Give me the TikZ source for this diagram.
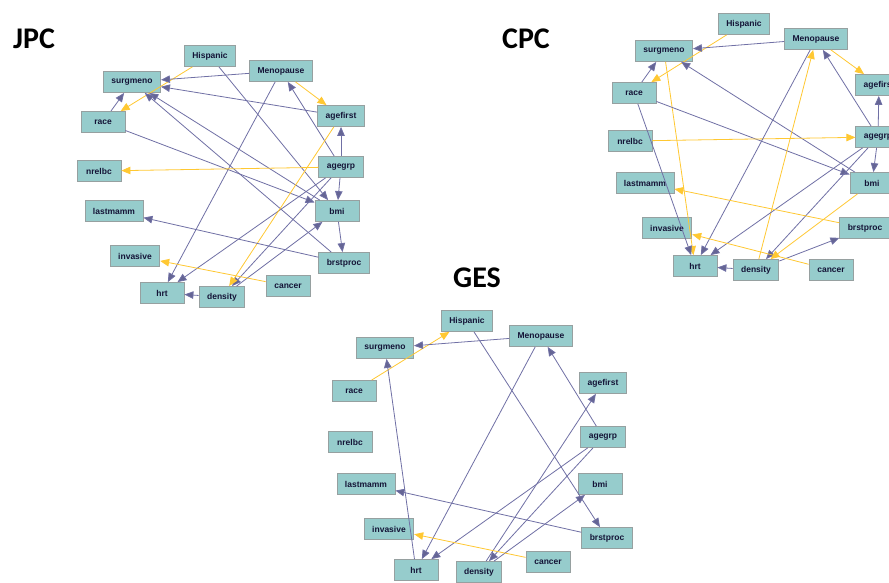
\documentclass[tikz,border=0pt]{standalone}
\usepackage{fontspec}
\setmainfont{Liberation Sans}
\newfontfamily\titlefont{Carlito}
\usetikzlibrary{arrows.meta}
\definecolor{boxfill}{RGB}{150,204,204}
\definecolor{boxline}{RGB}{150,160,160}
\definecolor{labeltext}{RGB}{20,20,55}
\definecolor{edgeblue}{RGB}{112,112,165}
\definecolor{edgeyellow}{RGB}{255,200,50}
\tikzset{
  var/.style={draw=boxline, fill=boxfill, line width=0.8pt, minimum width=44pt,
    minimum height=21pt, inner xsep=8pt, inner ysep=0pt, text=labeltext,
    font=\fontsize{8.5}{9}\selectfont\bfseries},
  title/.style={font=\titlefont\fontsize{30}{30}\selectfont\bfseries, text=black},
  blueedge/.style={draw=edgeblue, line width=0.8pt,
    -{Triangle[length=9pt,width=7.5pt,fill=edgeblue!90!black]}},
  yellowedge/.style={draw=edgeyellow, line width=0.8pt,
    -{Triangle[length=9pt,width=7.5pt,fill=edgeyellow]}},
}
\begin{document}
\begin{tikzpicture}[x=1pt,y=-1pt]
\useasboundingbox (0,0) rectangle (889,583);
\clip (0,0) rectangle (889,583);
\fill[white] (0,0) rectangle (889,583);

% ---------------- JPC ----------------
\node[title] (jT) at (34,39) {JPC};
\node[var] (jHis) at (210,56) {Hispanic};
\node[var] (jSur) at (132,82) {surgmeno};
\node[var] (jRac) at (103,122) {race};
\node[var] (jNre) at (99,171) {nrelbc};
\node[var] (jMen) at (281,71) {Menopause};
\node[var] (jAgf) at (341,116) {agefirst};
\node[var] (jAgg) at (341,167) {agegrp};
\node[var] (jLas) at (114,211) {lastmamm};
\node[var] (jInv) at (135,256) {invasive};
\node[var] (jHrt) at (162,293) {hrt};
\node[var] (jDen) at (222,297) {density};
\node[var] (jBmi) at (337,211) {bmi};
\node[var] (jBrs) at (344,263) {brstproc};
\node[var] (jCan) at (288,286) {cancer};

\begin{scope}[on background layer/.try]
\end{scope}

% ---------------- CPC ----------------
\node[title] (cT) at (526,39) {CPC};
\node[var] (cHis) at (744,24) {Hispanic};
\node[var] (cSur) at (664,51) {surgmeno};
\node[var] (cRac) at (634,93) {race};
\node[var] (cNre) at (630,141) {nrelbc};
\node[var] (cMen) at (816,39) {Menopause};
\node[var] (cAgf) at (879,85) {agefirst};
\node[var] (cAgg) at (878,137) {agegrp};
\node[var] (cLas) at (645,183) {lastmamm};
\node[var] (cInv) at (667,228) {invasive};
\node[var] (cHrt) at (695,266) {hrt};
\node[var] (cDen) at (756,270) {density};
\node[var] (cBmi) at (872,183) {bmi};
\node[var] (cBrs) at (865,228) {brstproc};
\node[var] (cCan) at (831,270) {cancer};

% ---------------- GES ----------------
\node[title] (gT) at (477,278) {GES};
\node[var] (gHis) at (467,321) {Hispanic};
\node[var] (gSur) at (385,348) {surgmeno};
\node[var] (gRac) at (354,391) {race};
\node[var] (gNre) at (350,442) {nrelbc};
\node[var] (gMen) at (541,336) {Menopause};
\node[var] (gAgf) at (603,383) {agefirst};
\node[var] (gAgg) at (603,437) {agegrp};
\node[var] (gLas) at (366,484) {lastmamm};
\node[var] (gInv) at (389,529) {invasive};
\node[var] (gHrt) at (416,570) {hrt};
\node[var] (gDen) at (479,572) {density};
\node[var] (gBmi) at (600,484) {bmi};
\node[var] (gBrs) at (607,538) {brstproc};
\node[var] (gCan) at (548,562) {cancer};

% ---------------- JPC edges ----------------
\draw[yellowedge] (jHis) -- (jRac);
\draw[blueedge] (jRac) -- (jSur);
\draw[blueedge] (jMen) -- (jSur);
\draw[blueedge] (jAgf) -- (jSur);
\draw[blueedge] (jBmi) -- (jSur);
\draw[blueedge] (jBrs) -- (jSur);
\draw[blueedge] (jHis) -- (jBmi);
\draw[blueedge] (jRac) -- (jBmi);
\draw[yellowedge] (jMen) -- (jAgf);
\draw[blueedge] (jMen) -- (jHrt);
\draw[blueedge] (jAgg) -- (jAgf);
\draw[blueedge] (jAgg) -- (jMen);
\draw[yellowedge] (jAgg) -- (jNre);
\draw[blueedge] (jAgg) -- (jBmi);
\draw[blueedge] (jAgg) -- (jHrt);
\draw[blueedge] (jAgg) -- (jDen);
\draw[yellowedge] (jAgf) -- (jDen);
\draw[blueedge] (jBmi) -- (jBrs);
\draw[blueedge] (jDen) -- (jBmi);
\draw[blueedge] (jDen) -- (jHrt);
\draw[yellowedge] (jCan) -- (jInv);
\draw[blueedge] (jBrs) -- (jLas);

% ---------------- CPC edges ----------------
\draw[yellowedge] (cHis) -- (cRac);
\draw[blueedge] (cMen) -- (cSur);
\draw[blueedge] (cRac) -- (cSur);
\draw[blueedge] (cBmi) -- (cSur);
\draw[yellowedge] (cSur) -- (cHrt);
\draw[blueedge] (cRac) -- (cHrt);
\draw[blueedge] (cRac) -- (cBmi);
\draw[yellowedge] (cNre) -- (cAgg);
\draw[yellowedge] (cMen) -- (cAgf);
\draw[blueedge] (cAgg) -- (cAgf);
\draw[blueedge] (cAgg) -- (cMen);
\draw[blueedge] (cMen) -- (cHrt);
\draw[yellowedge] (cDen) -- (cMen);
\draw[blueedge] (cAgg) -- (cHrt);
\draw[blueedge] (cAgg) -- (cDen);
\draw[blueedge] (cAgg) -- (cBmi);
\draw[yellowedge] (cBmi) -- (cDen);
\draw[blueedge] (cDen) -- (cBrs);
\draw[blueedge] (cDen) -- (cHrt);
\draw[yellowedge] (cCan) -- (cInv);
\draw[yellowedge] (cBrs) -- (cLas);

% ---------------- GES edges ----------------
\draw[yellowedge] (gRac) -- (gHis);
\draw[blueedge] (gMen) -- (gSur);
\draw[blueedge] (gHis) -- (gBrs);
\draw[blueedge] (gMen) -- (gHrt);
\draw[blueedge] (gAgg) -- (gMen);
\draw[blueedge] (gDen) -- (gAgf);
\draw[blueedge] (gAgg) -- (gHrt);
\draw[blueedge] (gAgg) -- (gDen);
\draw[blueedge] (gDen) -- (gBmi);
\draw[blueedge] (gHrt) -- (gSur);
\draw[blueedge] (gBrs) -- (gLas);
\draw[yellowedge] (gCan) -- (gInv);
\end{tikzpicture}
\end{document}
